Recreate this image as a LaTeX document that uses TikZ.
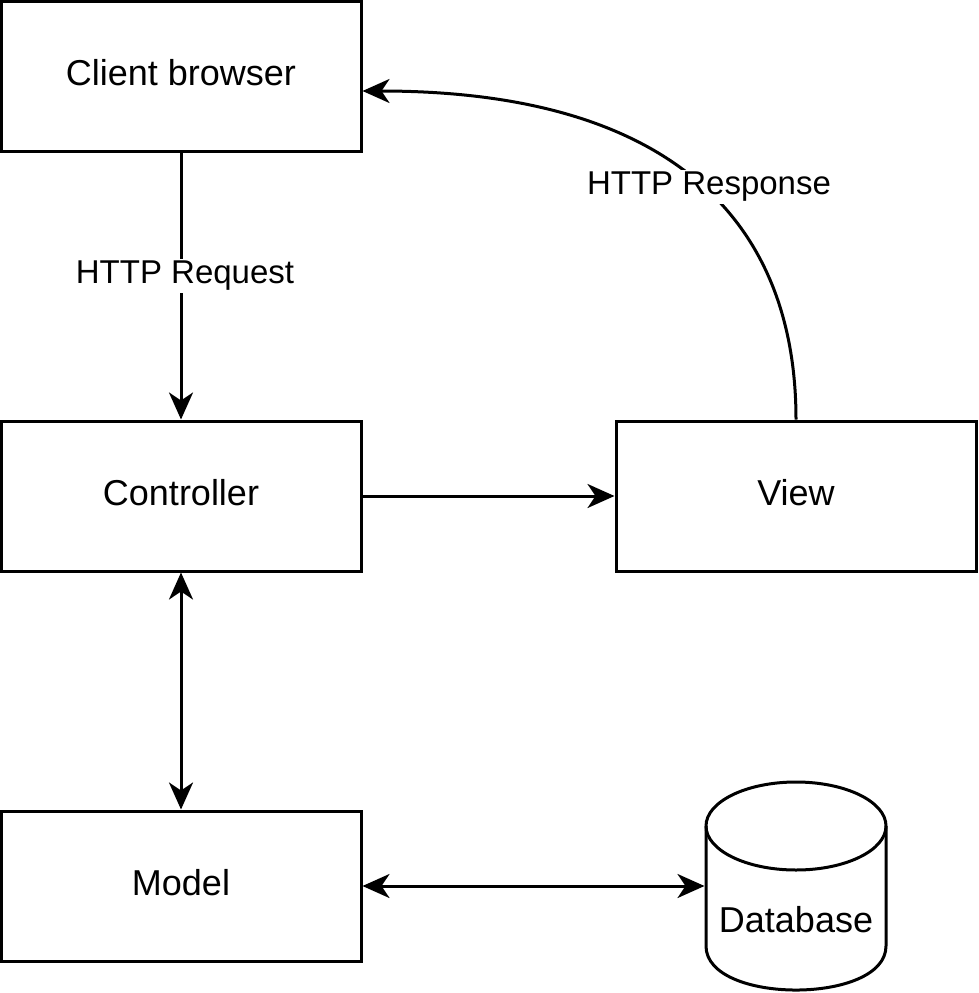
\documentclass[tikz,border=0pt]{standalone}
\usepackage{fontspec}
\setmainfont{Liberation Sans}
\usetikzlibrary{arrows.meta,calc}
\begin{document}
\begin{tikzpicture}[x=1pt,y=-1pt,
  >={Stealth[length=27pt,width=24pt,inset=8pt]},
  box/.style={draw, line width=3pt, minimum width=360pt, minimum height=150pt, inner sep=0pt, font=\fontsize{36}{40}\selectfont, text height=27pt, text depth=9pt},
  conn/.style={line width=3pt},
  lbl/.style={fill=white, inner sep=2pt, font=\fontsize{33}{38}\selectfont},
  cyl/.style={line width=3pt}]
\useasboundingbox (0,0) rectangle (978,993);
\node[box] (client) at (181,76) {Client browser};
\node[box] (ctrl) at (181,496) {Controller};
\node[box] (view) at (796,496) {View};
\node[box] (model) at (181,886) {Model};
% database cylinder
\node[minimum width=183pt, minimum height=213pt, inner sep=0pt, outer sep=0pt] (db) at (796,886) {};
\draw[cyl] (db.center) ++(0,-60) ellipse[x radius=90, y radius=44];
\draw[cyl] (706,826) -- (706,946) .. controls (706,1004.7) and (886,1004.7) .. (886,946) -- (886,826);
\node[font=\fontsize{36}{40}\selectfont] (dbtext) at (796,920) {Database};
% connectors
\draw[conn,->] (client) -- (ctrl);
\draw[conn,->] (ctrl) -- (view);
\draw[conn,<->] (ctrl) -- (model);
\draw[conn,<->] (model) -- (db.west);
\draw[conn,->] (view.north) .. controls (796,220) and (670,91) .. ($(client.east)+(0,15)$);
\node[lbl] (req) at (185,276) {HTTP Request};
\node[lbl] (resp) at (709,187) {HTTP Response};
\end{tikzpicture}
\end{document}
